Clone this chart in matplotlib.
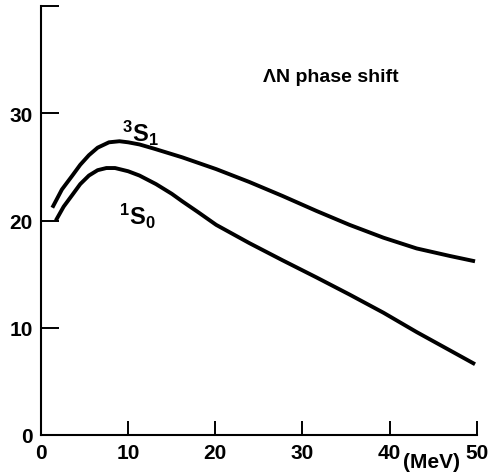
import matplotlib.pyplot as plt

plt.rcParams['font.family'] = ['Liberation Sans', 'DejaVu Sans']
plt.rcParams['font.weight'] = 'bold'
plt.rcParams['mathtext.default'] = 'regular'

# 3S1 phase shift (deg) vs energy (MeV)
e_3s1 = [1.3, 2.4, 3.6, 4.5, 5.5, 6.5, 7.8, 9.0, 10.0, 11.3, 13.0, 16.2, 20.1, 23.9,
         27.7, 31.6, 35.4, 39.3, 43.1, 46.9, 49.8]
d_3s1 = [21.2, 22.9, 24.2, 25.2, 26.1, 26.8, 27.3, 27.4, 27.3, 27.1, 26.7, 25.9, 24.8, 23.6,
         22.3, 20.9, 19.6, 18.4, 17.4, 16.7, 16.2]

# 1S0 phase shift
e_1s0 = [1.7, 2.6, 3.6, 4.5, 5.5, 6.5, 7.5, 8.5, 10.0, 11.3, 13.2, 15.0, 16.2, 18.0,
         20.1, 23.9, 27.7, 31.6, 35.4, 39.3, 43.1, 46.9, 49.8]
d_1s0 = [20.0, 21.3, 22.4, 23.4, 24.2, 24.7, 24.9, 24.9, 24.6, 24.2, 23.4, 22.5, 21.8, 20.8,
         19.6, 17.9, 16.3, 14.7, 13.1, 11.4, 9.6, 7.9, 6.6]

xticks = [0, 10, 20, 30, 40, 50]
yticks = [0, 10, 20, 30, 40]
ylabels = ['0', '10', '20', '30', '']

fig = plt.figure(figsize=(4.88, 4.77), dpi=100)
ax = fig.add_axes([0.084, 0.086, 0.893, 0.899])

ax.plot(e_3s1, d_3s1, color='black', lw=2.8, solid_capstyle='butt', solid_joinstyle='round')
ax.plot(e_1s0, d_1s0, color='black', lw=2.8, solid_capstyle='butt', solid_joinstyle='round')

ax.set_xlim(0, 50)
ax.set_ylim(0, 40)
ax.spines['top'].set_visible(False)
ax.spines['right'].set_visible(False)
ax.spines['left'].set_linewidth(1.5)
ax.spines['bottom'].set_linewidth(1.5)

ax.set_xticks(xticks)
ax.set_yticks(yticks, ylabels)
ax.tick_params(axis='x', direction='in', length=10, width=1.4, pad=6, labelsize=15)
ax.tick_params(axis='y', direction='in', length=13, width=1.4, pad=6, labelsize=15)

ax.text(9.3, 27.4, r'$^3$S$_1$', fontsize=17, va='baseline', ha='left')
ax.text(9.0, 19.7, r'$^1$S$_0$', fontsize=17, va='baseline', ha='left')
ax.text(33.3, 33.4, 'ΛN phase shift', fontsize=14, ha='center', va='center')
ax.text(44.8, -2.5, '(MeV)', fontsize=15, ha='center', va='center', clip_on=False)

plt.savefig('out.png', dpi=100)
